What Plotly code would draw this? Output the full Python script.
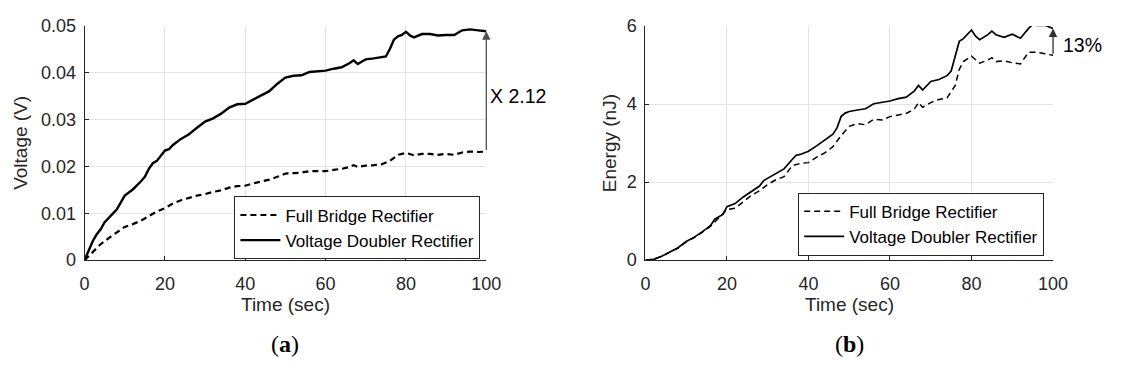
import plotly.graph_objects as go

W, H = 1126, 381

# ---------------- data ----------------
t_v = [0, 1, 2, 3, 4, 5, 6, 8, 10, 12, 14, 15, 16, 17, 18, 19, 20, 21, 22, 24, 26, 28, 30, 32, 34, 36, 38,
       40, 42, 44, 46, 48, 50, 52, 54, 56, 58, 60, 62, 64, 66, 67, 68, 70, 72, 74, 75, 76, 77, 78, 79,
       80, 81, 82, 84, 86, 88, 90, 92, 94, 96, 98, 100]
v_vdr = [0, 0.0020, 0.0040, 0.0055, 0.0066, 0.0081, 0.0090, 0.0108, 0.0138, 0.0151, 0.0168, 0.0178, 0.0195,
         0.0207, 0.0212, 0.0222, 0.0234, 0.0237, 0.0246, 0.0259, 0.0269, 0.0283, 0.0296, 0.0303, 0.0313,
         0.0326, 0.0333, 0.0334, 0.0343, 0.0352, 0.0361, 0.0377, 0.0390, 0.0394, 0.0395, 0.0402, 0.0404,
         0.0405, 0.0409, 0.0412, 0.0421, 0.0427, 0.0419, 0.0429, 0.0431, 0.0434, 0.0435, 0.0451, 0.0471,
         0.0478, 0.0481, 0.0488, 0.0480, 0.0476, 0.0483, 0.0483, 0.0480, 0.0481, 0.0481, 0.0491, 0.0493,
         0.0491, 0.0489]

t_f = [0, 2, 4, 6, 8, 10, 12, 14, 16, 18, 20, 22, 24, 26, 28, 30, 32, 34, 36, 38, 40, 42, 44, 46, 48, 50,
       52, 54, 56, 58, 60, 62, 64, 66, 67, 68, 70, 72, 74, 76, 78, 80, 82, 84, 86, 88, 90, 92, 94, 96, 98, 100]
v_fbr = [0, 0.0017, 0.0034, 0.0047, 0.0059, 0.0071, 0.0077, 0.0084, 0.0094, 0.0104, 0.0111, 0.0121, 0.0128,
         0.0133, 0.0138, 0.0141, 0.0146, 0.0149, 0.0155, 0.0158, 0.0159, 0.0164, 0.0168, 0.0172, 0.0178,
         0.0185, 0.0186, 0.0187, 0.0190, 0.0190, 0.0190, 0.0193, 0.0195, 0.0199, 0.0203, 0.0199, 0.0202,
         0.0203, 0.0205, 0.0212, 0.0225, 0.0229, 0.0224, 0.0227, 0.0227, 0.0225, 0.0227, 0.0225, 0.0230,
         0.0232, 0.0231, 0.0232]

t_e = [0, 2, 4, 6, 8, 10, 12, 14, 16, 17, 18, 19, 20, 22, 24, 26, 28, 29, 30, 32, 34, 36, 37, 38, 40, 42,
       44, 46, 47, 48, 49, 50, 52, 54, 56, 58, 60, 62, 64, 66, 67, 68, 70, 72, 74, 75, 76, 77, 78, 79, 80,
       81, 82, 84, 85, 86, 88, 90, 92, 94, 95, 96, 98, 100]
e_vdr = [0, 0.02, 0.10, 0.22, 0.32, 0.48, 0.59, 0.73, 0.89, 1.05, 1.11, 1.17, 1.37, 1.45, 1.62, 1.75, 1.90,
         2.04, 2.10, 2.22, 2.34, 2.58, 2.69, 2.71, 2.79, 2.93, 3.07, 3.23, 3.39, 3.68, 3.77, 3.81, 3.85, 3.88,
         4.01, 4.04, 4.08, 4.14, 4.18, 4.34, 4.48, 4.36, 4.58, 4.63, 4.73, 4.85, 5.21, 5.61, 5.68, 5.78, 5.90,
         5.74, 5.65, 5.78, 5.87, 5.78, 5.71, 5.79, 5.69, 5.94, 6.04, 6.02, 6.02, 5.94]

t_e2 = [0, 2, 4, 6, 8, 10, 12, 14, 16, 18, 20, 22, 24, 26, 28, 30, 32, 34, 36, 38, 40, 42, 44, 46, 48, 50,
        52, 54, 56, 58, 60, 62, 64, 66, 67, 68, 70, 72, 74, 75, 76, 77, 78, 80, 82, 84, 85, 86, 88, 90, 92,
        94, 96, 98, 100]
e_fbr = [0, 0.02, 0.10, 0.21, 0.31, 0.47, 0.58, 0.72, 0.87, 1.08, 1.30, 1.33, 1.49, 1.66, 1.78, 1.94, 2.06,
         2.14, 2.42, 2.48, 2.50, 2.64, 2.75, 2.91, 3.19, 3.43, 3.50, 3.47, 3.61, 3.59, 3.68, 3.72, 3.76, 3.88,
         4.04, 3.92, 4.04, 4.12, 4.16, 4.32, 4.48, 4.89, 5.09, 5.23, 5.05, 5.13, 5.19, 5.09, 5.11, 5.06, 5.03,
         5.33, 5.33, 5.29, 5.25]

x_ticks = [0, 20, 40, 60, 80, 100]
v_ticks = [0, 0.01, 0.02, 0.03, 0.04, 0.05]
v_ticklabels = ["0", "0.01", "0.02", "0.03", "0.04", "0.05"]
e_ticks = [0, 2, 4, 6]
names = ["Full Bridge Rectifier", "Voltage Doubler Rectifier"]
ratio_text = "X 2.12"
pct_text = "13%"

# ---------------- figure ----------------
def px(x):
    return x / W

def py(y):
    return (H - y) / H

INK = "#262626"
GRID = "#e3e3e3"
FONT = "Liberation Sans, Arial, sans-serif"

fig = go.Figure()
fig.add_trace(go.Scatter(x=t_f, y=v_fbr, mode="lines", name=names[0], xaxis="x", yaxis="y",
                         line=dict(color="black", width=2.2, dash="6px,4px"), legend="legend"))
fig.add_trace(go.Scatter(x=t_v, y=v_vdr, mode="lines", name=names[1], xaxis="x", yaxis="y",
                         line=dict(color="black", width=2.4), legend="legend"))
fig.add_trace(go.Scatter(x=t_e2, y=e_fbr, mode="lines", name=names[0], xaxis="x2", yaxis="y2",
                         line=dict(color="black", width=1.5, dash="6px,4px"), legend="legend2"))
fig.add_trace(go.Scatter(x=t_e, y=e_vdr, mode="lines", name=names[1], xaxis="x2", yaxis="y2",
                         line=dict(color="black", width=1.7), legend="legend2", cliponaxis=False))

ax_common = dict(showline=True, linecolor=INK, linewidth=1, mirror=False, showgrid=True,
                 gridcolor=GRID, gridwidth=1, ticks="inside", ticklen=4, tickcolor=INK,
                 tickfont=dict(family=FONT, size=18, color=INK), zeroline=False)

y0, y1 = py(264), py(17)
fig.update_layout(
    width=W, height=H, margin=dict(l=0, r=0, t=0, b=0),
    paper_bgcolor="white", plot_bgcolor="white",
    font=dict(family=FONT, color=INK),
    xaxis=dict(domain=[px(81), px(490)], range=[0, 100], tickvals=x_ticks, anchor="y",
               ticklabelstandoff=7, **ax_common),
    yaxis=dict(domain=[y0, y1], range=[0, 0.05], tickvals=v_ticks, ticktext=v_ticklabels,
               anchor="x", ticklabelstandoff=4, **ax_common),
    xaxis2=dict(domain=[px(652), px(1067)], range=[0, 100], tickvals=x_ticks, anchor="y2",
                ticklabelstandoff=7, **ax_common),
    yaxis2=dict(domain=[y0, y1], range=[0, 6], tickvals=e_ticks, anchor="x2",
                ticklabelstandoff=4, **ax_common),
    legend=dict(x=px(484), y=py(230), xanchor="right", yanchor="middle", bgcolor="white",
                bordercolor=INK, borderwidth=1, font=dict(family=FONT, size=17, color="black"),
                tracegroupgap=0, itemwidth=40),
    legend2=dict(x=px(1058), y=py(226), xanchor="right", yanchor="middle", bgcolor="white",
                 bordercolor=INK, borderwidth=1, font=dict(family=FONT, size=17, color="black"),
                 tracegroupgap=0, itemwidth=40),
    showlegend=True,
)

ann = []
def text_ann(text, x, y, size, angle=0, xanchor="center", family=FONT, color=INK):
    ann.append(dict(text=text, x=px(x), y=py(y), xref="paper", yref="paper", showarrow=False,
                    xanchor=xanchor, yanchor="middle", textangle=angle,
                    font=dict(family=family, size=size, color=color)))

# axis titles
text_ann("Time (sec)", 285.5, 311, 19)
text_ann("Time (sec)", 859.5, 311, 19)
text_ann("Voltage (V)", 15, 140.5, 19, angle=-90)
text_ann("Energy (nJ)", 615, 140.5, 19, angle=-90)
# panel labels
SERIF = "Liberation Serif, DejaVu Serif, serif"
text_ann("(<b>a</b>)", 285.5, 352, 24, family=SERIF, color="black")
text_ann("(<b>b</b>)", 859.5, 352, 24, family=SERIF, color="black")
# arrows
ann.append(dict(x=100, y=v_vdr[-1], ax=100, ay=v_fbr[-1], xref="x", yref="y", axref="x", ayref="y",
                text="", showarrow=True, arrowhead=2, arrowsize=1.3, arrowwidth=1.3, arrowcolor="#505050"))
ann.append(dict(x=100, y=e_vdr[-1], ax=100, ay=e_fbr[-1], xref="x2", yref="y2", axref="x2", ayref="y2",
                text="", showarrow=True, arrowhead=2, arrowsize=1.3, arrowwidth=1.3, arrowcolor="#303030"))
text_ann(ratio_text, 492, 91, 19.5, xanchor="left", color="black")
text_ann(pct_text, 1075, 37, 19.5, xanchor="left", color="black")
fig.update_layout(annotations=ann)

fig.write_html("out.html")
